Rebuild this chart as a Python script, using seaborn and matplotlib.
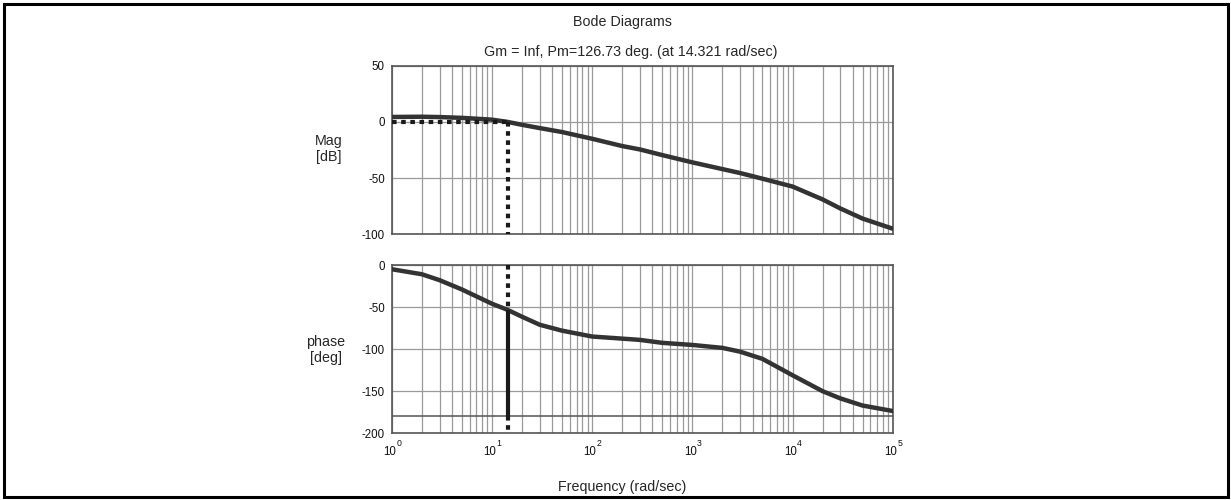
import numpy as np
import pandas as pd
import matplotlib
matplotlib.use("Agg")
import matplotlib.pyplot as plt
import seaborn as sns
from matplotlib.patches import Rectangle
from matplotlib.ticker import LogLocator, NullFormatter, FixedLocator

# Frequency response samples (rad/sec, dB, deg)
freq = [1, 2, 3, 5, 10, 14.321, 20, 30, 50, 100, 200, 300, 500,
        1000, 2000, 3000, 5000, 10000, 20000, 30000, 50000, 100000]
mag_db = [4.4, 4.6, 4.3, 3.6, 2.0, 0.0, -2.6, -5.5, -9.0, -15.0, -21.5, -24.5,
          -29.5, -36.0, -42.0, -45.5, -50.5, -57.5, -69.0, -77.0, -86.0, -95.0]
phase_deg = [-5, -11, -18, -29, -46, -53.27, -61.5, -71, -78, -85, -87.5, -89,
             -92.5, -95, -98.5, -103, -111.5, -131, -150, -158.5, -167, -173.5]

# Margin information
crossover_freq = 14.321
phase_margin = 126.73
mag_ticks = [-100, -50, 0, 50]
phase_ticks = [-200, -150, -100, -50, 0]
decade_exponents = [0, 1, 2, 3, 4, 5]

sns.set_theme(style="white")
plt.rcParams['font.family'] = ['Liberation Sans', 'DejaVu Sans']

W, H = 1231, 500
fig = plt.figure(figsize=(W / 100, H / 100), dpi=100)
fig.patch.set_facecolor("white")


def px_rect(x0, y0, x1, y1):
    return [x0 / W, 1 - y1 / H, (x1 - x0) / W, (y1 - y0) / H]


ax_mag = fig.add_axes(px_rect(391.7, 65.7, 892.7, 234.3))
ax_ph = fig.add_axes(px_rect(391.7, 265.0, 892.7, 433.3))

df = pd.DataFrame({"freq": freq, "mag": mag_db, "phase": phase_deg})

curve_color = "#333333"
grid_color = "#9a9a9a"
spine_color = "#555555"

sns.lineplot(data=df, x="freq", y="mag", ax=ax_mag, color=curve_color,
             lw=3.2, zorder=3)
sns.lineplot(data=df, x="freq", y="phase", ax=ax_ph, color=curve_color,
             lw=3.2, zorder=3)

dot_style = dict(color="#1a1a1a", lw=3.0, linestyle=(0, (1.1, 1.1)),
                 dash_capstyle="butt", zorder=4)

# Gain crossover markers on the magnitude plot
ax_mag.plot([freq[0], crossover_freq], [0, 0], **dot_style)
ax_mag.plot([crossover_freq, crossover_freq], [0, -100], **dot_style)

# Phase margin markers on the phase plot
ph_at_wc = -180 + phase_margin
ax_ph.plot([crossover_freq, crossover_freq], [0, ph_at_wc], **dot_style)
ax_ph.plot([crossover_freq, crossover_freq], [ph_at_wc, -180],
           color="#1a1a1a", lw=3.0, solid_capstyle="butt", zorder=4)
ax_ph.plot([crossover_freq, crossover_freq], [-180, -200], **dot_style)
ax_ph.axhline(-180, color="#555555", lw=1.1, zorder=2)

for ax, ticks in ((ax_mag, mag_ticks), (ax_ph, phase_ticks)):
    ax.set_xscale("log")
    ax.set_xlim(1, 1e5)
    ax.set_ylim(ticks[0], ticks[-1])
    ax.yaxis.set_major_locator(FixedLocator(ticks))
    ax.set_yticklabels([str(t) for t in ticks])
    ax.xaxis.set_major_locator(LogLocator(base=10, numticks=10))
    ax.xaxis.set_minor_locator(LogLocator(base=10, subs=range(2, 10), numticks=20))
    ax.xaxis.set_minor_formatter(NullFormatter())
    ax.set_xticklabels([])
    ax.set_axisbelow(True)
    ax.grid(True, which="both", axis="x", color=grid_color, lw=0.9)
    ax.grid(True, which="major", axis="y", color=grid_color, lw=0.9)
    ax.tick_params(axis="both", which="both", length=0, pad=5,
                   labelsize=8.3, labelcolor="#111111")
    ax.set_xlabel("")
    ax.set_ylabel("")
    for sp in ax.spines.values():
        sp.set_visible(True)
        sp.set_color(spine_color)
        sp.set_linewidth(1.2)

# Decade labels written as base with raised exponent
for e in decade_exponents:
    ax_ph.annotate("10", xy=(10.0 ** e, 0), xycoords=("data", "axes fraction"),
                   xytext=(-2, -19), textcoords="offset pixels",
                   ha="center", va="center", fontsize=8.3, color="#111111")
    ax_ph.annotate(str(e), xy=(10.0 ** e, 0), xycoords=("data", "axes fraction"),
                   xytext=(7, -10), textcoords="offset pixels",
                   ha="center", va="center", fontsize=6.3, color="#111111")


def fig_text(x, y, s, **kw):
    fig.text(x / W, 1 - y / H, s, **kw)


fig_text(622, 22, "Bode Diagrams", ha="center", va="center", fontsize=10.3)
fig_text(631, 52, "Gm = Inf, Pm=126.73 deg. (at 14.321 rad/sec)",
         ha="center", va="center", fontsize=10.3)
fig_text(329, 149, "Mag\n[dB]", ha="center", va="center", fontsize=10.3,
         multialignment="center", linespacing=1.2)
fig_text(326, 350, "phase\n[deg]", ha="center", va="center", fontsize=10.3,
         multialignment="center", linespacing=1.2)
fig_text(622, 487, "Frequency (rad/sec)", ha="center", va="center",
         fontsize=10.3)

# Outer frame around the whole figure
fig.patches.append(Rectangle((3.5 / W, 3.5 / H), (W - 7) / W, (H - 7) / H,
                             transform=fig.transFigure, fill=False,
                             edgecolor="black", lw=2.2, zorder=10))

fig.savefig("out.png", dpi=100)
